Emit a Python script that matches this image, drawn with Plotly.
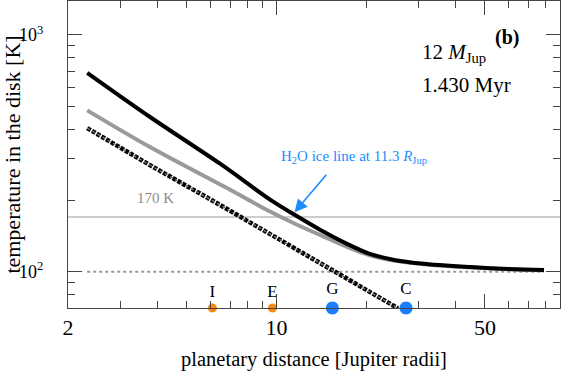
import numpy as np
import plotly.graph_objects as go

# temperature profiles (distance in Jupiter radii, T in K)
black_x = [2.32, 3.78, 6.49, 9.55, 11.58, 14.05, 17.05, 20.7, 25.1, 30.5, 44.9, 60, 78.9]
black_T = [692, 449, 285, 201, 173, 150, 132, 118.5, 111.8, 108.3, 104.5, 102.5, 101.5]

gray_x = [2.32, 3.78, 6.75, 9.55, 11.58, 14.05, 17.05, 20.7, 25.1, 30.5, 44.9, 60, 78.9]
gray_T = [480, 335, 227, 179, 159, 142.6, 128, 117, 111, 107.8, 104, 102.3, 101.3]

dash_x = [2.32, 3.78, 6.0, 10.0, 16.0, 25.5, 28.0]
dash_T = [404, 281, 202, 139, 98.7, 70, 65.5]

floor_x = [2.32, 78.9]
floor_T = [100, 100]

ice_T = 170

moon_names = ["I", "E", "G", "C"]
moon_r = [6.1, 9.7, 15.4, 27.2]
moon_colors = ["#f58a0f", "#f58a0f", "#1a7fff", "#1a7fff"]
moon_sizes = [10, 10, 14, 14]

x_range = [np.log10(2), np.log10(89.3)]
y_range = [np.log10(70.2), np.log10(1391)]
serif = "Liberation Serif"

fig = go.Figure()
fig.add_trace(go.Scatter(x=[2, 89.3], y=[ice_T, ice_T], mode="lines",
                         line=dict(color="#bdbdbd", width=1.5)))
fig.add_trace(go.Scatter(x=floor_x, y=floor_T, mode="lines",
                         line=dict(color="#9a9a9a", width=2, dash="dot")))
fig.add_trace(go.Scatter(x=gray_x, y=gray_T, mode="lines", line_shape="spline",
                         line=dict(color="#9a9a9a", width=4)))
fig.add_trace(go.Scatter(x=black_x, y=black_T, mode="lines", line_shape="spline",
                         line=dict(color="black", width=4)))
fig.add_trace(go.Scatter(x=dash_x, y=dash_T, mode="lines",
                         line=dict(color="black", width=4.5, dash="4px,1.5px")))
fig.add_trace(go.Scatter(x=dash_x, y=dash_T, mode="lines",
                         line=dict(color="#777777", width=1.5, dash="dot")))

fig.add_trace(go.Scatter(x=moon_r, y=[10 ** y_range[0]] * 4, mode="markers+text",
                         text=moon_names, textposition="top center",
                         textfont=dict(family=serif, size=17, color="black"),
                         marker=dict(color=moon_colors, size=moon_sizes, opacity=1),
                         cliponaxis=False))

axis_common = dict(type="log", showgrid=False, zeroline=False, showline=True,
                   linecolor="#444", linewidth=1, mirror="ticks", ticks="inside",
                   tickcolor="#444", tickwidth=1, ticklen=14, automargin=False)

fig.update_xaxes(**axis_common, range=x_range, tickmode="array",
                 tickvals=[2, 10, 50], ticktext=["2", "10", "50"],
                 tickfont=dict(family=serif, size=22, color="black"),
                 minor=dict(tickmode="array", ticks="inside", ticklen=7, tickcolor="#444",
                            tickvals=[3, 4, 5, 6, 7, 8, 9, 20, 30, 40, 60, 70, 80]),
                 title=dict(text="planetary distance [Jupiter radii]",
                            font=dict(family=serif, size=20.5, color="black"), standoff=12))
fig.update_yaxes(**axis_common, range=y_range, tickmode="array",
                 tickvals=[100, 1000], ticktext=["10<sup>2</sup>", "10<sup>3</sup>"],
                 tickfont=dict(family=serif, size=18, color="black"), ticklabelstandoff=20,
                 minor=dict(tickmode="array", ticks="inside", ticklen=7, tickcolor="#444",
                            tickvals=[80, 90, 200, 300, 400, 500, 600, 700, 800, 900]),
                 title=dict(text="temperature in the disk [K]",
                            font=dict(family=serif, size=22, color="black"), standoff=4))

blue = "#1a8cff"
fig.add_annotation(x=np.log10(11.5), y=np.log10(178), ax=33, ay=-39, text="",
                   showarrow=True, arrowhead=2, arrowsize=1.6, arrowwidth=1.6,
                   arrowcolor=blue)
fig.add_annotation(x=np.log10(18.2), y=2.483, text="H<sub>2</sub>O ice line at 11.3 <i>R</i><sub>Jup</sub>",
                   showarrow=False, font=dict(family=serif, size=15, color=blue))
fig.add_annotation(xref="paper", yref="paper", x=0.136, y=0.325, text="170 K",
                   showarrow=False, font=dict(family=serif, size=15, color="#8c8c8c"))
fig.add_annotation(xref="paper", yref="paper", x=0.715, y=0.88, xanchor="left",
                   text="12 <i>M</i><sub>Jup</sub>", showarrow=False,
                   font=dict(family=serif, size=21, color="black"))
fig.add_annotation(xref="paper", yref="paper", x=0.715, y=0.773, xanchor="left",
                   text="1.430 Myr", showarrow=False,
                   font=dict(family=serif, size=21, color="black"))
fig.add_annotation(xref="paper", yref="paper", x=0.921, y=0.925, text="<b>(b)</b>",
                   showarrow=False, font=dict(family=serif, size=20, color="black"))

fig.update_layout(width=561, height=372, showlegend=False,
                  margin=dict(l=68, r=1, t=1, b=64),
                  plot_bgcolor="white", paper_bgcolor="white")

# drop the browser's default body margin so the figure sits at the page corner
fig.write_html("out.html", config={"displayModeBar": False},
               post_script="document.body.style.margin='0';")
